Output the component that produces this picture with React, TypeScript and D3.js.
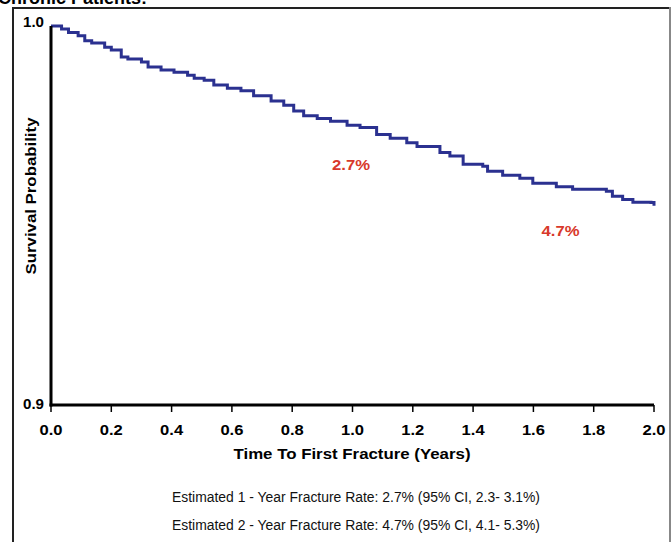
// App.tsx
import React from "react";
import * as d3 from "d3";

// Kaplan-Meier estimate
const times = [
  0, 0.035, 0.058, 0.09, 0.112, 0.135, 0.178, 0.2, 0.233, 0.255, 0.3, 0.322,
  0.365, 0.408, 0.453, 0.475, 0.508, 0.54, 0.585, 0.63, 0.672, 0.73, 0.772,
  0.805, 0.838, 0.883, 0.927, 0.982, 1.025, 1.08, 1.125, 1.18, 1.214, 1.29,
  1.323, 1.367, 1.432, 1.448, 1.498, 1.555, 1.598, 1.676, 1.73, 1.842, 1.862,
  1.896, 1.93, 1.99, 2.0,
];
const survival = [
  1.0, 0.9992, 0.9983, 0.9974, 0.9961, 0.9955, 0.9944, 0.9937, 0.9918, 0.9913,
  0.9905, 0.9892, 0.9884, 0.9878, 0.987, 0.9862, 0.9857, 0.9844, 0.9836,
  0.9829, 0.9816, 0.9802, 0.9791, 0.9776, 0.9763, 0.9756, 0.9749, 0.9738,
  0.9732, 0.9714, 0.9704, 0.9692, 0.9682, 0.9666, 0.9657, 0.9635, 0.963,
  0.9617, 0.9606, 0.9598, 0.9585, 0.9576, 0.9569, 0.9564, 0.9551, 0.9542,
  0.9535, 0.9534, 0.9526,
];

const xTicks = [0, 0.2, 0.4, 0.6, 0.8, 1.0, 1.2, 1.4, 1.6, 1.8, 2.0];
const yTicks = [0.9, 1.0];

const rateLabels = ["2.7%", "4.7%"];
const rateAt = [0.995, 1.69];
const rateValue = [0.962, 0.9446];

const notes = [
  "Estimated 1 - Year Fracture Rate: 2.7% (95% CI, 2.3- 3.1%)",
  "Estimated 2 - Year Fracture Rate: 4.7% (95% CI, 4.1- 5.3%)",
];

const W = 671;
const H = 542;
const bold = "'Liberation Sans', Arial, sans-serif";

export default function App() {
  const x = d3.scaleLinear().domain([0, 2]).range([51, 654]);
  const y = d3.scaleLinear().domain([0.9, 1.0]).range([405, 26]);

  const pts = times.map((t, i) => [t, survival[i]] as [number, number]);
  const line = d3
    .line<[number, number]>()
    .x((d) => x(d[0]))
    .y((d) => y(d[1]))
    .curve(d3.curveStepAfter);

  return (
    <svg
      width={W}
      height={H}
      style={{ position: "absolute", left: 0, top: 0, background: "#fff" }}
    >
      {/* title cut off at the top */}
      <text x={-2} y={4} fontFamily={bold} fontWeight="bold" fontSize={18} fill="#000">
        Chronic Patients:
      </text>

      {/* frame */}
      <line x1={13} y1={8} x2={670} y2={8} stroke="#222" strokeWidth={2} />
      <line x1={13} y1={7} x2={13} y2={H} stroke="#222" strokeWidth={2} />
      <line x1={670} y1={7} x2={670} y2={H} stroke="#888" strokeWidth={2} />

      {/* survival curve */}
      <path d={line(pts) || ""} fill="none" stroke="#2b3190" strokeWidth={3} />

      {/* axes */}
      <line x1={x(0)} y1={y(1.0)} x2={x(0)} y2={y(0.9) + 1.5} stroke="#000" strokeWidth={3} />
      <line x1={x(0) - 1.5} y1={y(0.9)} x2={x(2)} y2={y(0.9)} stroke="#000" strokeWidth={3} />
      {xTicks.map((t) => (
        <g key={t}>
          <line x1={x(t)} y1={y(0.9)} x2={x(t)} y2={y(0.9) + 7} stroke="#000" strokeWidth={1.5} />
          <text
            x={x(t)}
            y={435}
            textAnchor="middle"
            fontFamily={bold}
            fontWeight="bold"
            fontSize={14}
            textLength={23}
            lengthAdjust="spacingAndGlyphs"
          >
            {t.toFixed(1)}
          </text>
        </g>
      ))}
      {yTicks.map((v) => (
        <text
          key={v}
          x={44}
          y={y(v)}
          dy={v === 1 ? "0.05em" : "0.3em"}
          textAnchor="end"
          fontFamily={bold}
          fontWeight="bold"
          fontSize={14}
          textLength={21}
          lengthAdjust="spacingAndGlyphs"
        >
          {v.toFixed(1)}
        </text>
      ))}

      <text
        x={352}
        y={459}
        textAnchor="middle"
        fontFamily={bold}
        fontWeight="bold"
        fontSize={15}
        textLength={237}
        lengthAdjust="spacingAndGlyphs"
      >
        Time To First Fracture (Years)
      </text>
      <text
        transform={`translate(36, 196) rotate(-90)`}
        textAnchor="middle"
        fontFamily={bold}
        fontWeight="bold"
        fontSize={14}
        textLength={157}
        lengthAdjust="spacingAndGlyphs"
      >
        Survival Probability
      </text>

      {rateLabels.map((l, i) => (
        <text
          key={l}
          x={x(rateAt[i])}
          y={y(rateValue[i])}
          textAnchor="middle"
          fontFamily={bold}
          fontWeight="bold"
          fontSize={15}
          fill="#d8392b"
          textLength={38}
          lengthAdjust="spacingAndGlyphs"
        >
          {l}
        </text>
      ))}

      {notes.map((n, i) => (
        <text
          key={n}
          x={356}
          y={502 + i * 28}
          textAnchor="middle"
          fontFamily="'Liberation Sans Narrow', 'Liberation Sans', Arial, sans-serif"
          fontSize={14}
          fill="#111"
          textLength={368}
          lengthAdjust="spacingAndGlyphs"
        >
          {n}
        </text>
      ))}
    </svg>
  );
}
